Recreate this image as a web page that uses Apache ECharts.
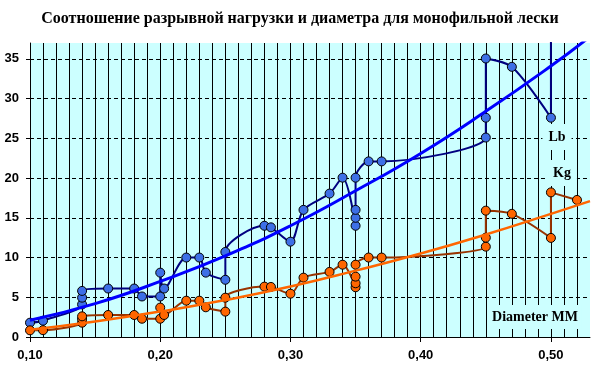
<!DOCTYPE html>
<html><head><meta charset="utf-8">
<script src="https://cdn.jsdelivr.net/npm/echarts@6/dist/echarts.min.js"></script>
<style>html,body{margin:0;padding:0;background:#fff}#c{width:600px;height:380px}</style>
</head><body><div id="c"></div>
<script>
const titleText = 'Соотношение разрывной нагрузки и диаметра для монофильной лески';
const diameters = [0.10,0.11,0.14,0.14,0.14,0.16,0.18,0.186,0.20,0.20,0.203,0.22,0.23,0.235,0.25,0.25,0.28,0.285,0.30,0.31,0.33,0.34,0.35,0.35,0.35,0.35,0.36,0.37,0.45,0.45,0.45,0.47,0.50,0.50,0.52];
const lbValues  = [1.8,2.05,4.1,4.95,5.8,6.1,6.1,5.1,5.1,8.1,6.1,10.0,10.0,8.1,7.2,10.7,14.0,13.8,12.0,16.0,18.05,20.05,14.0,15.0,16.0,20.05,22.1,22.1,25.1,27.6,35.05,34.0,27.6,40.0,38.0];
const kgValues  = [0.84,0.86,1.8,2.25,2.6,2.77,2.77,2.3,2.3,3.7,2.77,4.57,4.57,3.74,3.19,4.95,6.34,6.3,5.45,7.47,8.19,9.1,6.26,6.76,7.6,9.1,10.0,10.0,11.37,12.5,15.9,15.5,12.47,18.2,17.25];
const trendDiameters = [0.10,0.15,0.20,0.25,0.30,0.35,0.40,0.45,0.50,0.53];
const lbTrend = [2.1,4.2,7.0,10.2,14.0,18.4,23.1,28.4,34.1,37.8];
const kgTrend = [0.9,1.95,3.2,4.65,6.35,8.35,10.5,12.9,15.5,17.1];
const seriesLabels = ['Lb','Kg'];
const axisTitle = 'Diameter MM';

const pairs = (xs, ys) => xs.map((x, i) => [x, ys[i]]);
const chart = echarts.init(document.getElementById('c'), null, {renderer: 'canvas'});
const labelFont = {fontFamily: 'Liberation Sans', fontWeight: 'bold', fontSize: 13, color: '#000'};
const boxText = (text, x, y, pad) => ({
  type: 'text', z: 1, x: x, y: y,
  style: {text: text, font: 'bold 14px "Liberation Serif"', fill: '#000',
    align: 'center', verticalAlign: 'middle', textAlign: 'center', textVerticalAlign: 'middle',
    backgroundColor: '#ccffff', padding: pad}
});
chart.setOption({
  animation: false,
  title: {text: titleText, left: 'center', top: 6,
    textStyle: {fontFamily: 'Liberation Serif', fontWeight: 'bold', fontSize: 16, color: '#000'}},
  grid: {left: 30, right: 10, top: 43, bottom: 43, show: true, backgroundColor: '#ccffff', borderWidth: 0},
  xAxis: [
    {type: 'value', min: 0.1, max: 0.53, interval: 0.1, position: 'bottom',
      axisLine: {show: true, onZero: false, lineStyle: {color: '#000', width: 1}},
      axisTick: {show: true, length: 5, lineStyle: {color: '#000'}},
      axisLabel: Object.assign({showMaxLabel: false, margin: 12, formatter: v => v.toFixed(2).replace('.', ',')}, labelFont),
      splitLine: {show: false}},
    {type: 'value', min: 0.1, max: 0.53, interval: 0.01, position: 'top',
      axisLine: {show: false}, axisTick: {show: false}, axisLabel: {show: false},
      splitLine: {show: true, showMaxLine: false, lineStyle: {color: '#000', width: 1}}}
  ],
  yAxis: {type: 'value', min: 0, max: 37, interval: 5,
    axisLine: {show: true, lineStyle: {color: '#000', width: 1}},
    axisTick: {show: true, length: 4, lineStyle: {color: '#000'}},
    axisLabel: Object.assign({showMaxLabel: false, margin: 11}, labelFont),
    splitLine: {show: true, showMaxLine: false, showMinLine: false, lineStyle: {color: '#000', width: 1, type: [4, 3]}}},
  graphic: [boxText(seriesLabels[0], 557, 137, [6, 6]), boxText(seriesLabels[1], 562, 173, [6, 6]), boxText(axisTitle, 535, 317, [5, 4])],
  series: [
    {type: 'line', name: 'Lb', data: pairs(diameters, lbValues), smooth: 0.3, clip: true, showAllSymbol: true,
      symbol: 'circle', symbolSize: 9, z: 3,
      lineStyle: {color: '#000080', width: 2}, itemStyle: {color: '#3d6fe6', borderColor: '#000', borderWidth: 1}},
    {type: 'line', name: 'Kg', data: pairs(diameters, kgValues), smooth: 0.3, clip: true, showAllSymbol: true,
      symbol: 'circle', symbolSize: 9, z: 3,
      lineStyle: {color: '#993300', width: 2}, itemStyle: {color: '#ff6600', borderColor: '#000', borderWidth: 1}},
    {type: 'line', name: 'Lb trend', data: pairs(trendDiameters, lbTrend), smooth: true, clip: true, symbol: 'none', z: 4,
      lineStyle: {color: '#0000ff', width: 3}},
    {type: 'line', name: 'Kg trend', data: pairs(trendDiameters, kgTrend), smooth: true, clip: true, symbol: 'none', z: 4,
      lineStyle: {color: '#ff6600', width: 2.5}}
  ]
});
</script></body></html>
